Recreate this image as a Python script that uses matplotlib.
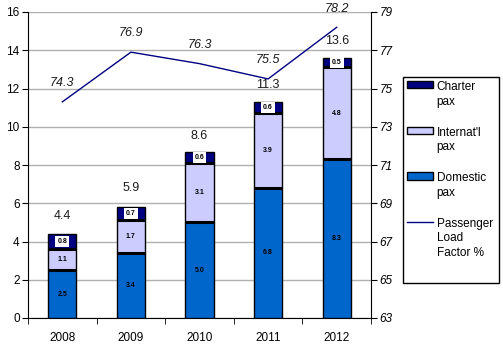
import matplotlib
matplotlib.use("Agg")
import matplotlib.pyplot as plt
import numpy as np
from matplotlib.patches import Patch, Rectangle
from matplotlib.lines import Line2D

plt.rcParams['font.family'] = ['Liberation Sans', 'DejaVu Sans']

years = ['2008', '2009', '2010', '2011', '2012']
domestic = [2.5, 3.4, 5.0, 6.8, 8.3]
internat = [1.1, 1.7, 3.1, 3.9, 4.8]
charter = [0.8, 0.7, 0.6, 0.6, 0.5]
totals = [4.4, 5.9, 8.6, 11.3, 13.6]
load_factor = [74.3, 76.9, 76.3, 75.5, 78.2]

c_dom = '#0066CC'
c_int = '#CCCCFF'
c_cha = '#000080'
c_line = '#000080'

fig = plt.figure(figsize=(5.03, 3.59), dpi=100)
ax = fig.add_axes([28/503, 41/359, (371-28)/503, (318-12)/359])
x = np.arange(len(years))
w = 0.41

ax.bar(x, domestic, w, color=c_dom, edgecolor='black', linewidth=1.0, zorder=3)
ax.bar(x, internat, w, bottom=domestic, color=c_int, edgecolor='black', linewidth=1.0, zorder=3)
bot2 = np.array(domestic) + np.array(internat)
ax.bar(x, charter, w, bottom=bot2, color=c_cha, edgecolor='black', linewidth=1.0, zorder=3)
for xi, d, b in zip(x, domestic, bot2):
    ax.plot([xi - w/2, xi + w/2], [d, d], color='black', lw=2.2, zorder=4, solid_capstyle='butt')
    ax.plot([xi - w/2, xi + w/2], [b, b], color='black', lw=2.2, zorder=4, solid_capstyle='butt')

for xi, d, i, c, b, t in zip(x, domestic, internat, charter, bot2, totals):
    ax.text(xi, d/2, f'{d:.1f}', ha='center', va='center', fontsize=5, fontweight='bold', zorder=5)
    ax.text(xi, d + i/2, f'{i:.1f}', ha='center', va='center', fontsize=5, fontweight='bold', zorder=5)
    ax.text(xi, b + c/2, f'{c:.1f}', ha='center', va='center', fontsize=5, fontweight='bold', zorder=5,
            bbox=dict(boxstyle='square,pad=0.3', fc='white', ec='none'))
    ax.annotate(f'{t:.1f}', (xi, t), xytext=(0, 12.5), textcoords='offset points',
                ha='center', va='center', fontsize=9, color='#1a1a1a', zorder=5)

ax.set_ylim(0, 16)
ax.set_yticks(range(0, 17, 2))
ax.set_xlim(-0.5, len(years) - 0.5)
ax.set_xticks(x)
ax.set_xticklabels(years, fontsize=8.5)
ax.set_xticks(np.arange(-0.5, len(years), 1.0), minor=True)
ax.tick_params(axis='x', which='major', length=0, pad=10)
ax.tick_params(axis='x', which='minor', length=4, direction='out', color='black')
ax.tick_params(axis='y', length=4, direction='out', labelsize=8.5, pad=2)
ax.yaxis.grid(True, color='#b0b0b0', lw=1.0, zorder=0)
ax.set_axisbelow(True)
for s in ['top', 'right']:
    ax.spines[s].set_visible(False)

ax2 = ax.twinx()
ax2.plot(x, load_factor, color=c_line, lw=1.0, zorder=6)
ax2.set_ylim(63, 79)
ax2.set_yticks(range(63, 80, 2))
for tl in ax2.get_yticklabels():
    tl.set_fontstyle('italic')
ax2.tick_params(axis='y', length=4, direction='out', labelsize=8.5, pad=2)
for s in ['top', 'left', 'bottom']:
    ax2.spines[s].set_visible(False)
for xi, v in zip(x, load_factor):
    ax2.annotate(f'{v:.1f}', (xi, v), xytext=(0, 13.5), textcoords='offset points',
                 ha='center', va='center', fontsize=9, style='italic', color='#1a1a1a')

# legend frame
W, H = 503, 359
fig.patches.append(Rectangle((403/W, 1 - 283/H), 96/W, 206/H, transform=fig.transFigure,
                             facecolor='white', edgecolor='black', lw=1.0, zorder=1))

handles = [Patch(facecolor=c_cha, edgecolor='black', lw=1),
           Patch(facecolor=c_int, edgecolor='black', lw=1),
           Patch(facecolor=c_dom, edgecolor='black', lw=1),
           Line2D([0], [0], color=c_line, lw=1)]
labels = ['Charter\npax', "Internat'l\npax", 'Domestic\npax', 'Passenger\nLoad\nFactor %']
leg = fig.legend(handles, labels, loc='upper left', bbox_to_anchor=(407/W, 1 - 81/H),
                 fontsize=8.5, frameon=False,
                 handlelength=2.2, handleheight=0.6, handletextpad=0.3, labelspacing=1.6,
                 borderpad=0, borderaxespad=0)
for t in leg.get_texts():
    t.set_linespacing(1.3)
for col in leg._legend_handle_box.get_children():
    for hp in col.get_children():
        hp.align = 'top'

fig.savefig('out.png', dpi=100)
